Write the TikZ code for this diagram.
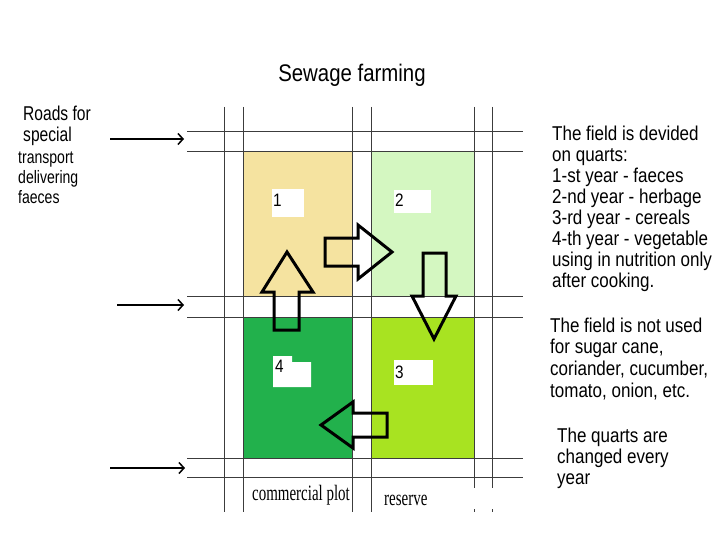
\documentclass[tikz,border=0pt]{standalone}
\usepackage{fontspec}
\setmainfont{Liberation Sans}
\newfontfamily\ar[FakeStretch=0.85]{Liberation Sans}
\newfontfamily\arl[FakeStretch=0.78]{Liberation Sans}
\newfontfamily\tm[FakeStretch=0.68]{Liberation Serif}
\usetikzlibrary{arrows.meta}
\definecolor{fieldA}{HTML}{F5E3A0}
\definecolor{fieldB}{HTML}{D4F7C1}
\definecolor{fieldC}{HTML}{A8E321}
\definecolor{fieldD}{HTML}{22B14C}
\definecolor{gridc}{HTML}{3C3C3C}
\begin{document}
\begin{tikzpicture}[x=1pt,y=-1pt,
  field/.style={draw=none,inner sep=0pt,anchor=north west},
  gridline/.style={draw=gridc,line width=1pt},
  bigarrow/.style={draw=black,line width=3pt,line join=miter},
  road/.style={draw=black,line width=1.5pt,-{Straight Barb[length=5pt,width=11pt]}},
  rtxt/.style={font=\ar\fontsize{20}{21}\selectfont,anchor=base west,inner sep=0pt},
  ltxtA/.style={font=\arl\fontsize{20}{21}\selectfont,anchor=base west,inner sep=0pt},
  ltxtB/.style={font=\arl\fontsize{18}{20}\selectfont,anchor=base west,inner sep=0pt},
  btxt/.style={font=\tm\fontsize{22}{24}\selectfont,anchor=base west,inner sep=0pt},
  numbox/.style={fill=white,inner sep=0pt,anchor=north west},
  numtxt/.style={font=\ar\fontsize{18}{20}\selectfont,anchor=base west,inner sep=0pt}
]
\useasboundingbox[fill=white] (0,0) rectangle (720,540);

% fields
\node[field,fill=fieldA,minimum width=109pt,minimum height=144pt] (f1) at (243,152) {};
\node[field,fill=fieldB,minimum width=103pt,minimum height=144pt] (f2) at (371,152) {};
\node[field,fill=fieldD,minimum width=109pt,minimum height=141pt] (f4) at (243,317) {};
\node[field,fill=fieldC,minimum width=103pt,minimum height=141pt] (f3) at (371,317) {};

% grid lines
\foreach \x in {224,243,352,371}{ \draw[gridline] (\x,107) -- (\x,512); }
\foreach \x in {474,492}{
  \draw[gridline] (\x,107) -- (\x,488);
  \draw[gridline] (\x,509) -- (\x,512);
}
\foreach \y in {132,152,296,317,458,477}{ \draw[gridline] (187,\y) -- (523,\y); }

% number boxes
\node[numbox,minimum width=32pt,minimum height=28pt] (b1) at (272,189) {};
\node[numtxt] (n1) at (273,207) {1};
\node[numbox,minimum width=37pt,minimum height=23pt] (b2) at (394,190) {};
\node[numtxt] (n2) at (395,207) {2};
\node[numbox,minimum width=39pt,minimum height=25pt] (b3) at (394,360) {};
\node[numtxt] (n3) at (395,378) {3};
\fill[white] (273,356) -- (292,356) -- (292,362) -- (311,362) -- (311,387) -- (273,387) -- cycle;
\node[numtxt] (n4) at (275,372) {4};

% rotation arrows
\draw[bigarrow] (325,238) -- (358,238) -- (358,225) -- (392,252) -- (358,279) -- (358,266) -- (325,266) -- cycle;
\draw[bigarrow] (423,253) -- (446,253) -- (446,296) -- (456,296) -- (434,339) -- (412,296) -- (423,296) -- cycle;
\draw[bigarrow] (387,413) -- (387,437) -- (353,437) -- (353,448) -- (321,425) -- (353,402) -- (353,413) -- cycle;
\draw[bigarrow] (274,330) -- (299,330) -- (299,292) -- (313,292) -- (287,252) -- (262,292) -- (274,292) -- cycle;

% road arrows
\coordinate (r1s) at (110,139); \coordinate (r1e) at (184,139);
\coordinate (r2s) at (117,305); \coordinate (r2e) at (184,305);
\coordinate (r3s) at (110,468); \coordinate (r3e) at (185,468);
\draw[road] (r1s) -- (r1e);
\draw[road] (r2s) -- (r2e);
\draw[road] (r3s) -- (r3e);

% title
\node[font=\ar\fontsize{24}{28}\selectfont,anchor=base,inner sep=0pt] (title) at (352,82) {Sewage farming};

% left text
\node[ltxtA] (l1) at (23,121) {Roads for};
\node[ltxtA] (l2) at (23,142) {special};
\node[ltxtB] (l3) at (18,164) {transport};
\node[ltxtB] (l4) at (18,184) {delivering};
\node[ltxtB] (l5) at (18,204) {faeces};

% right text blocks
\foreach \t [count=\i] in {{The field is devided},{on quarts:},{1-st year - faeces},{2-nd year - herbage},{3-rd year - cereals},{4-th year - vegetable},{using in nutrition only},{after cooking.}}
  \node[rtxt] (ra\i) at (552,{141+20.9*(\i-1)}) {\t};
\foreach \t [count=\i] in {{The field is not used},{for sugar cane,},{coriander, cucumber,},{tomato, onion, etc.}}
  \node[rtxt] (rb\i) at (550,{332+21.7*(\i-1)}) {\t};
\foreach \t [count=\i] in {{The quarts are},{changed every},{year}}
  \node[rtxt] (rc\i) at (557,{442+21*(\i-1)}) {\t};

% bottom labels
\node[btxt] (cp) at (252,500) {commercial plot};
\node[btxt] (rs) at (384,505) {reserve};
\end{tikzpicture}
\end{document}
